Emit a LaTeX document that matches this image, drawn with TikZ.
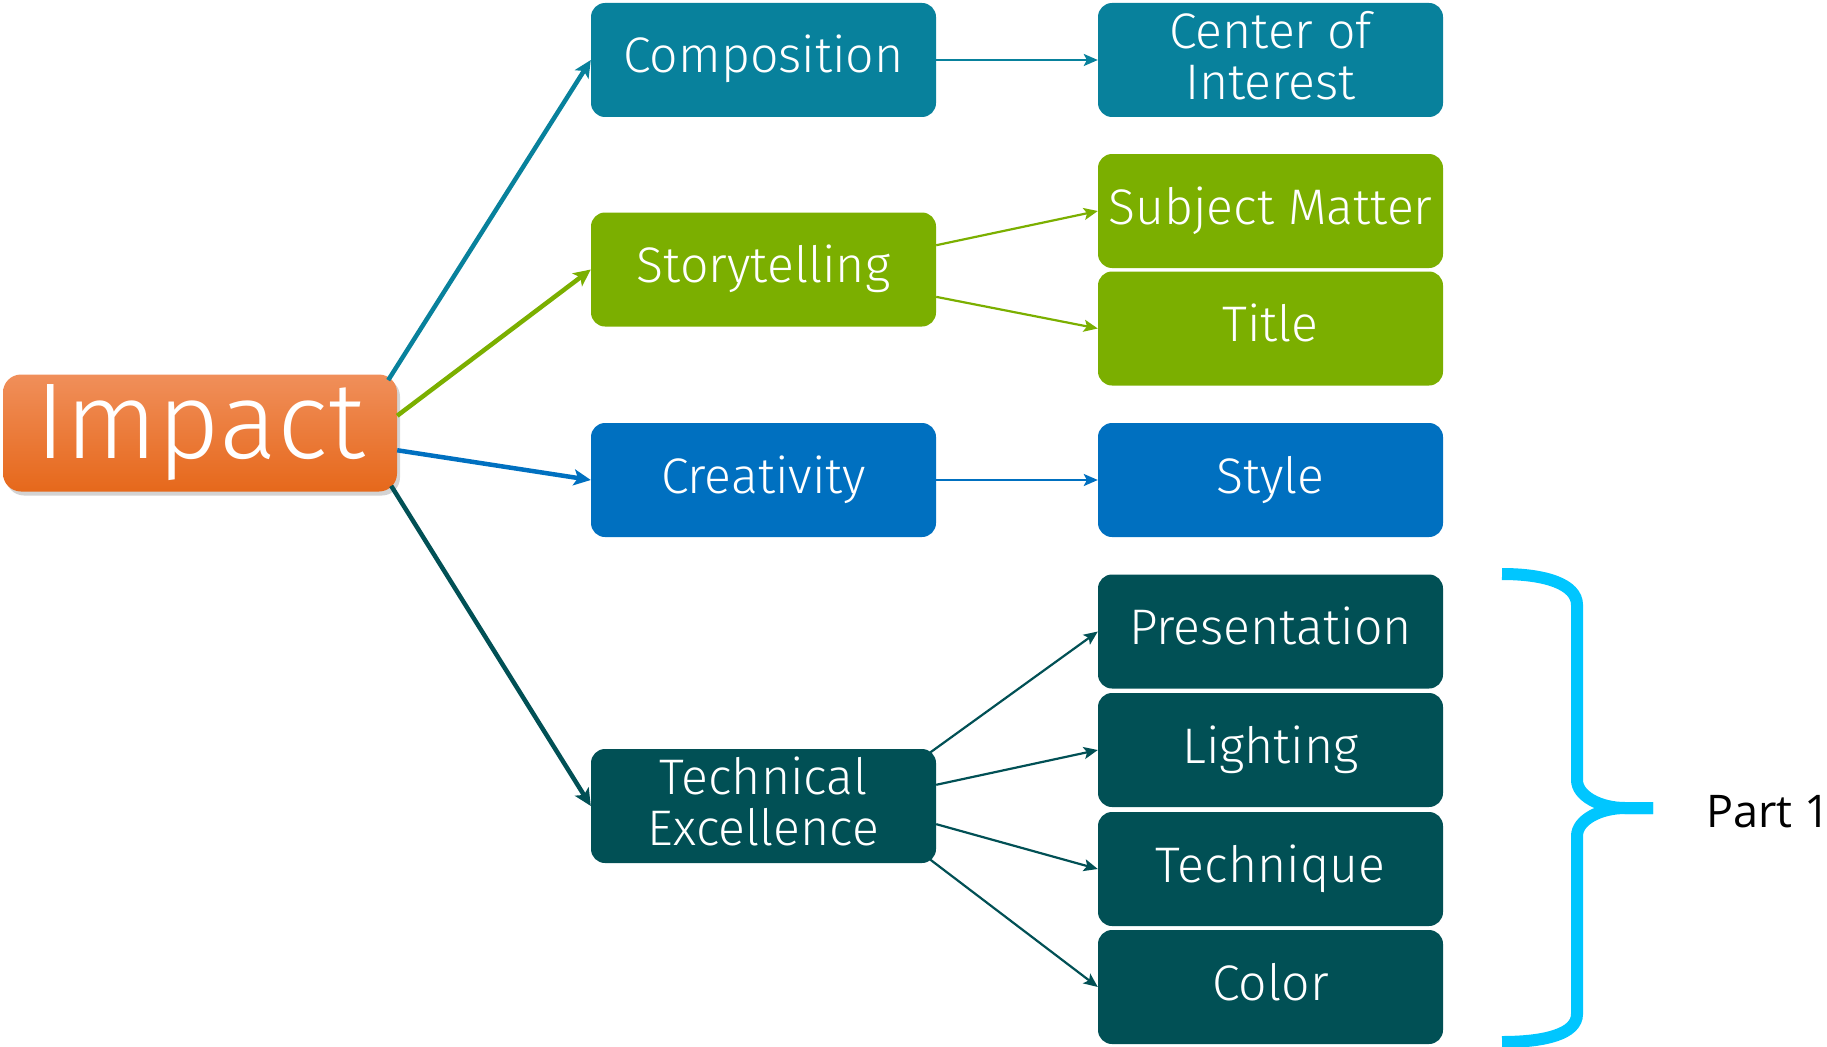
\documentclass[tikz,border=0pt]{standalone}
\usepackage{fontspec}
\setmainfont{Fira Sans Light}
\newfontfamily\partfont{Open Sans}
\usetikzlibrary{arrows.meta,shadows}
\definecolor{cteal}{RGB}{8,129,156}
\definecolor{cgreen}{RGB}{123,175,0}
\definecolor{cblue}{RGB}{0,112,192}
\definecolor{cdark}{RGB}{1,80,85}
\definecolor{cbrace}{RGB}{0,198,255}
\definecolor{otop}{RGB}{240,143,90}
\definecolor{obot}{RGB}{230,104,27}
\begin{document}
\begin{tikzpicture}[x=1pt,y=-1pt,
  box/.style={rounded corners=14pt, minimum width=345pt, minimum height=114pt,
    text=white, align=center, inner sep=0pt, font=\fontsize{50}{51}\selectfont},
  oneline/.style={text height=30pt, text depth=4pt},
  tealbox/.style={box, fill=cteal},
  greenbox/.style={box, fill=cgreen},
  bluebox/.style={box, fill=cblue},
  darkbox/.style={box, fill=cdark},
  mainarr/.style={line width=4.5pt, -{Stealth[length=17pt,width=16pt,inset=4pt]}},
  subarr/.style={line width=2.2pt, -{Stealth[length=14pt,width=12pt,inset=3pt]}},
  brace/.style={draw=cbrace, line width=12pt}
]
\useasboundingbox (0,0) rectangle (1827,1046);

\node[rounded corners=18pt, minimum width=394pt, minimum height=117pt, inner sep=0pt,
  top color=otop, bottom color=obot, text=white,
  drop shadow={opacity=0.35, shadow xshift=3pt, shadow yshift=-4pt},
  font=\fontsize{108}{110}\selectfont] (imp) at (200,433) {Impact};

\node[tealbox, oneline] (comp) at (763.5,60) {Composition};
\node[greenbox, oneline] (story) at (763.5,269.5) {Storytelling};
\node[bluebox, oneline] (crea) at (763.5,480) {Creativity};
\node[darkbox] (tech) at (763.5,806) {Technical\\Excellence\rule[-10pt]{0pt}{0pt}};

\node[tealbox] (coi) at (1270.5,60) {Center of\\Interest\rule[-10pt]{0pt}{0pt}};
\node[greenbox, oneline] (subj) at (1270.5,211) {Subject Matter};
\node[greenbox, oneline] (title) at (1270.5,328.5) {Title};
\node[bluebox, oneline] (style) at (1270.5,480) {Style};
\node[darkbox, oneline] (pres) at (1270.5,631.5) {Presentation};
\node[darkbox, oneline] (light) at (1270.5,750) {Lighting};
\node[darkbox, oneline] (techq) at (1270.5,869) {Technique};
\node[darkbox, oneline] (color) at (1270.5,987) {Color};

\draw[mainarr, cteal] ([xshift=-9pt]imp.15.7) -- (comp.west);
\draw[mainarr, cgreen] (imp.5.2) -- (story.west);
\draw[mainarr, cblue] (imp.-5.5) -- (crea.west);
\draw[mainarr, cdark] ([xshift=-6pt]imp.-15.8) -- (tech.west);

\draw[subarr, cteal] (comp.east) -- (coi.west);
\draw[subarr, cgreen] (story.8.4) -- (subj.west);
\draw[subarr, cgreen] (story.-9.4) -- (title.west);
\draw[subarr, cblue] (crea.east) -- (style.west);
\draw[subarr, cdark] ([xshift=-7pt]tech.17.4) -- (pres.west);
\draw[subarr, cdark] (tech.7.6) -- (light.west);
\draw[subarr, cdark] (tech.-6.3) -- (techq.west);
\draw[subarr, cdark] ([xshift=-7pt]tech.-17.7) -- (color.west);

\draw[brace] (1502,574) .. controls (1545,574) and (1577,584) .. (1577,605)
  -- (1577,780) .. controls (1577,796) and (1600,808) .. (1625,808) -- (1653,808);
\draw[brace] (1653,808) -- (1625,808) .. controls (1600,808) and (1577,820) .. (1577,836)
  -- (1577,1014) .. controls (1577,1034) and (1545,1042) .. (1502,1042);

\node[anchor=base west, inner sep=0pt, font=\partfont\fontsize{45}{46}\selectfont] (part) at (1706,827) {Part 1};
\end{tikzpicture}
\end{document}
